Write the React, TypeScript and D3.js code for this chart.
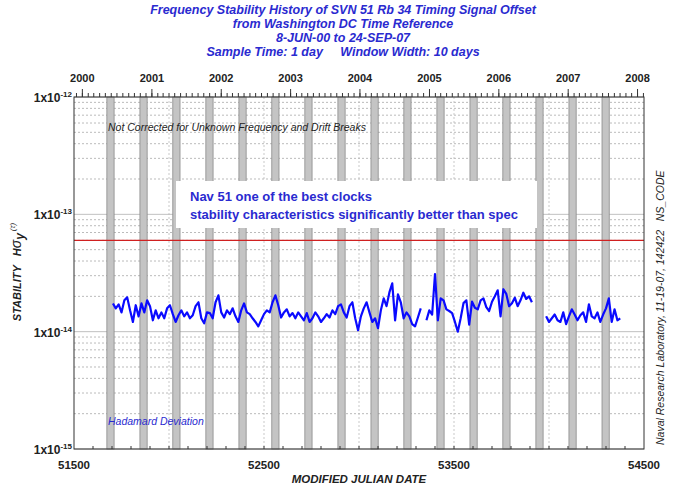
import React from "react";
import * as d3 from "d3";

const W = 676, H = 487;
const M = { left: 74, right: 644, top: 97, bottom: 449 };

const TITLE_LINES = [
  "Frequency Stability History of SVN 51 Rb 34 Timing Signal Offset",
  "from Washington DC Time Reference",
  "8-JUN-00 to 24-SEP-07",
  "Sample Time: 1 day     Window Width: 10 days",
];

const YEAR_LABELS = [2000, 2001, 2002, 2003, 2004, 2005, 2006, 2007, 2008];
const MJD_TICKS = [51500, 52500, 53500, 54500];
const Y_DECADES = [-12, -13, -14, -15];

// eclipse season centres (MJD)
const ECLIPSE_CENTERS = [51692, 51866, 52039, 52213, 52387, 52560, 52734, 52908, 53082, 53255, 53429, 53603, 53776, 53950, 54124, 54298];
const ECLIPSE_HALF_WIDTH = 19;

const SPEC_LEVEL = 6e-14;

// data: start MJD, 15-day spacing, values in units of 1e-14 (null = no data)
const DATA_START_MJD = 51705;
const DATA_STEP_DAYS = 15;
const STABILITY = [
  1.74, 1.58, 1.71, 1.46, 1.85, 1.96, 1.52, 1.21, 1.68, 1.35,
  1.74, 1.46, 1.85, 1.65, 1.25, 1.52, 1.30, 1.46, 1.30, 1.58,
  1.68, 1.41, 1.21, 1.38, 1.52, 1.35, 1.46, 1.30, 1.38, 1.65,
  1.78, 1.30, 1.18, 1.46, 1.44, 1.30, 1.78, 2.04, 1.46, 1.32,
  1.52, 1.41, 1.58, 1.35, 1.21, 1.52, 1.74, 1.46, 1.41, 1.30,
  1.21, 1.11, 1.25, 1.41, 1.52, 1.46, 1.78, 2.04, 1.68, 1.32,
  1.46, 1.55, 1.35, 1.44, 1.30, 1.46, 1.35, 1.25, 1.44, 1.21,
  1.30, 1.46, 1.35, 1.21, 1.30, 1.41, 1.32, 1.52, 1.41, 1.65,
  1.71, 1.46, 1.32, 1.65, 1.78, 1.30, 1.03, 1.35, 1.58, 1.78,
  1.46, 1.21, 1.30, 1.07, 1.52, 1.92, 1.65, 2.16, 2.58, 1.25,
  2.08, 1.78, 1.30, 1.46, 1.35, 1.16, 1.11, 1.32, 1.58, null,
  1.25, 1.52, 1.40, 3.10, 1.25, 1.92, 1.85, 1.55, 1.50, 1.44,
  1.21, 1.00, 1.30, 1.75, 1.85, 1.15, 1.80, 1.60, 1.55, 1.85,
  1.92, 1.62, 1.50, 1.80, 2.00, 2.25, 1.35, 2.30, 2.10, 1.65,
  1.75, 1.95, 1.65, 1.85, 2.15, 1.90, 2.00, 1.78, null, null,
  null, null, 1.35, 1.21, 1.30, 1.40, 1.25, 1.21, 1.46, 1.16,
  1.35, 1.55, 1.40, 1.25, 1.38, 1.46, 1.21, 1.71, 1.35, 1.30,
  1.46, 1.21, 1.40, 1.58, 1.92, 1.21, 1.55, 1.25, 1.30,
];

const FONT = "'Liberation Sans', Arial, Helvetica, sans-serif";
const BLUE_TEXT = "#2a2ad0";

const MJD_EPOCH = Date.UTC(1858, 10, 17);
const toMJD = (d: Date) => (d.getTime() - MJD_EPOCH) / 86400000;

export default function App() {
  const x = d3.scaleLinear().domain([51500, 54500]).range([M.left, M.right]);
  const y = d3.scaleLog().domain([1e-15, 1e-12]).range([M.bottom, M.top]);

  const series = STABILITY.map((v, i) => ({
    mjd: DATA_START_MJD + i * DATA_STEP_DAYS,
    v: v == null ? null : v * 1e-14,
  }));
  const line = d3
    .line<{ mjd: number; v: number | null }>()
    .defined((d) => d.v != null)
    .x((d) => x(d.mjd))
    .y((d) => y(d.v as number));

  const months = d3.utcMonth
    .range(new Date(Date.UTC(1999, 11, 1)), new Date(Date.UTC(2008, 2, 1)))
    .map(toMJD)
    .filter((m) => m >= 51500 && m <= 54500);
  const yearMJD = YEAR_LABELS.map((yr) => toMJD(new Date(Date.UTC(yr, 0, 1))));

  const minorY: number[] = [];
  for (let e = -15; e < -12; e++) for (let k = 2; k <= 9; k++) minorY.push(k * Math.pow(10, e));
  const mjdMinor = d3.range(51600, 54500, 100);
  const vGrid = d3.range(52000, 54500, 500);

  return (
    <svg width={W} height={H} style={{ position: "fixed", left: 0, top: 0, background: "#fff" }} fontFamily={FONT}>
      <rect x={0} y={0} width={W} height={H} fill="#fff" />
      {/* title */}
      {TITLE_LINES.map((t, i) => (
        <text key={i} x={343} y={14 + i * 14} textAnchor="middle" fontSize={12.5} fontWeight="bold" fontStyle="italic" fill={BLUE_TEXT} xmlSpace="preserve">
          {t}
        </text>
      ))}

      {/* grid */}
      {minorY.map((v, i) => (
        <line key={"my" + i} x1={M.left} x2={M.right} y1={y(v)} y2={y(v)} stroke="#aaa" strokeWidth={0.8} strokeDasharray="2,2" />
      ))}
      {Y_DECADES.map((e) => (
        <line key={"dy" + e} x1={M.left} x2={M.right} y1={y(Math.pow(10, e))} y2={y(Math.pow(10, e))} stroke="#b0b0b0" strokeWidth={0.8} />
      ))}
      {vGrid.map((m) => (
        <line key={"vg" + m} x1={x(m)} x2={x(m)} y1={M.top} y2={M.bottom} stroke="#bbb" strokeWidth={0.8} strokeDasharray="2,2" />
      ))}

      {/* eclipse bars */}
      {ECLIPSE_CENTERS.map((c, i) => (
        <rect key={"ec" + i} x={x(c - ECLIPSE_HALF_WIDTH)} y={M.top} width={x(c + ECLIPSE_HALF_WIDTH) - x(c - ECLIPSE_HALF_WIDTH)} height={M.bottom - M.top} fill="#c4c4c4" stroke="#8a8a8a" strokeWidth={0.8} />
      ))}

      {/* annotation box */}
      <rect x={176} y={181} width={361} height={47} fill="#fff" />
      <text x={190} y={201} fontSize={13} fontWeight="bold" fill={BLUE_TEXT}>Nav 51 one of the best clocks</text>
      <text x={190} y={219} fontSize={13} fontWeight="bold" fill={BLUE_TEXT}>stability characteristics significantly better than spec</text>

      {/* spec line */}
      <line x1={M.left} x2={M.right} y1={y(SPEC_LEVEL)} y2={y(SPEC_LEVEL)} stroke="#d02020" strokeWidth={1.2} />

      {/* data */}
      <path d={line(series) || ""} fill="none" stroke="#0a0aff" strokeWidth={2.2} strokeLinejoin="round" />

      {/* frame */}
      <rect x={M.left} y={M.top} width={M.right - M.left} height={M.bottom - M.top} fill="none" stroke="#333" strokeWidth={1} />

      {/* top axis ticks */}
      {months.map((m, i) => (
        <line key={"mt" + i} x1={x(m)} x2={x(m)} y1={M.top} y2={M.top - 4} stroke="#333" strokeWidth={1} />
      ))}
      {yearMJD.map((m, i) => (
        <g key={"yt" + i}>
          <line x1={x(m)} x2={x(m)} y1={M.top} y2={M.top - 8} stroke="#333" strokeWidth={1} />
          <text x={x(m)} y={82} textAnchor="middle" fontSize={11} fontWeight="bold" fill="#222">{YEAR_LABELS[i]}</text>
        </g>
      ))}

      {/* bottom axis */}
      {mjdMinor.map((m) => (
        <line key={"bt" + m} x1={x(m)} x2={x(m)} y1={M.bottom} y2={M.bottom - 3} stroke="#333" strokeWidth={1} />
      ))}
      {MJD_TICKS.map((m) => (
        <text key={"bl" + m} x={x(m)} y={469} textAnchor="middle" fontSize={11.5} fontWeight="bold" fill="#222">{m}</text>
      ))}
      <text x={359} y={483} textAnchor="middle" fontSize={11.5} fontWeight="bold" fontStyle="italic" fill="#222">MODIFIED JULIAN DATE</text>

      {/* left axis labels */}
      {Y_DECADES.map((e) => (
        <text key={"yl" + e} x={72} y={y(Math.pow(10, e)) + 5} textAnchor="end" fontSize={12} fontWeight="bold" fill="#222">
          1x10<tspan fontSize={8} dy={-5}>{String(e)}</tspan>
        </text>
      ))}

      {/* y title */}
      <g transform="translate(21,272) rotate(-90)">
        <text textAnchor="middle" fontSize={11} fontWeight="bold" fontStyle="italic" fill="#222" xmlSpace="preserve">
          {"STABILITY   H"}
          <tspan fontSize={14} fontWeight="normal">σ</tspan>
          <tspan dy={3} fontSize={12}>y</tspan>
          <tspan dy={-9} dx={2} fontSize={8} fontWeight="normal">(τ)</tspan>
        </text>
      </g>

      {/* notes */}
      <text x={108} y={131} fontSize={10.5} fontStyle="italic" fill="#222">Not Corrected for Unknown Frequency and Drift Breaks</text>
      <text x={108} y={425} fontSize={10.5} fontStyle="italic" fill={BLUE_TEXT}>Hadamard Deviation</text>

      <g transform="translate(664,445) rotate(-90)">
        <text x={0} y={0} fontSize={10.5} fontStyle="italic" fill="#222" xmlSpace="preserve">
          {"Naval Research Laboratory, 11-19-07, 142422   NS_CODE"}
        </text>
      </g>
    </svg>
  );
}
